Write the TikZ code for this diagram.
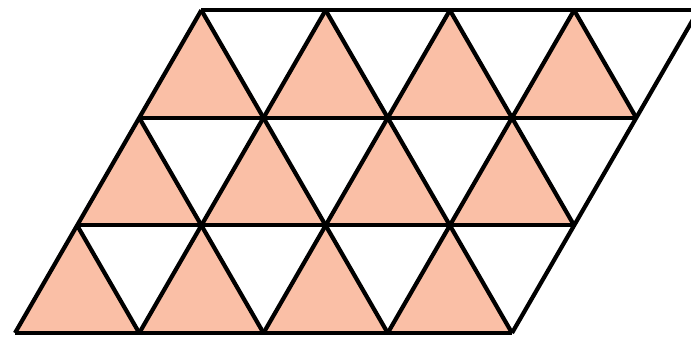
\documentclass[tikz,border=0pt]{standalone}
\definecolor{peach}{RGB}{250,191,166}
\begin{document}
\begin{tikzpicture}[x=1pt,y=1pt,line width=4.2pt]
  \useasboundingbox (0,0) rectangle (691,340);
  \clip (0,0) rectangle (691,340);
  % lattice point (i,j) of the triangle grid
  \def\s{124.25}\def\h{107.6}
  \foreach \j in {0,1,2}
    \foreach \i in {0,1,2,3}
      \fill[peach] ({15+\i*\s+\j*\s/2},{7+\j*\h}) -- ({15+(\i+1)*\s+\j*\s/2},{7+\j*\h})
        -- ({15+\i*\s+(\j+1)*\s/2},{7+(\j+1)*\h}) -- cycle;
  \foreach \j in {0,1,2,3}
    \draw ({15+\j*\s/2},{7+\j*\h}) -- ({15+4*\s+\j*\s/2},{7+\j*\h});
  \foreach \i in {0,...,4}
    \draw ({15+\i*\s},7) -- ({15+\i*\s+1.5*\s},{7+3*\h});
  \foreach \j in {0,1,2}
    \foreach \i in {0,1,2,3}
      \draw ({15+(\i+1)*\s+\j*\s/2},{7+\j*\h}) -- ({15+\i*\s+(\j+1)*\s/2},{7+(\j+1)*\h});
\end{tikzpicture}
\end{document}
